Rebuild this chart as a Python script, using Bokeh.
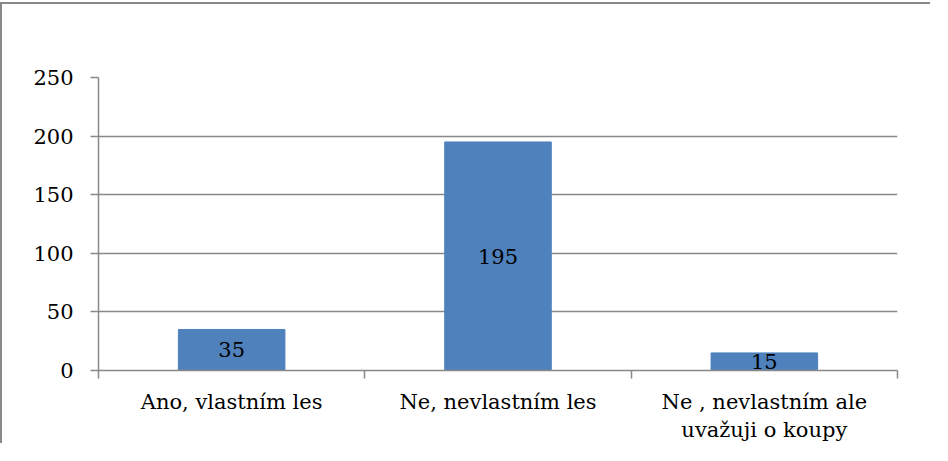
from bokeh.plotting import figure
from bokeh.models import Range1d, FixedTicker, ColumnDataSource
from bokeh.core.properties import value
from bokeh.embed import file_html
from bokeh.resources import INLINE

categories = ["Ano, vlastním les", "Ne, nevlastním les", "Ne , nevlastním ale\nuvažuji o koupy"]
counts = [35, 195, 15]
y_ticks = [0, 50, 100, 150, 200, 250]

FONT = "DejaVu Serif"
FS = "21px"
GRAY = "#898989"
BLUE = "#4F81BD"

xs = [i + 0.5 for i in range(len(categories))]
src = ColumnDataSource(dict(x=xs, top=counts, mid=[c / 2 for c in counts], lab=[str(c) for c in counts]))

p = figure(width=930, height=441, output_backend="svg", toolbar_location=None,
           x_range=Range1d(0, len(categories)), y_range=Range1d(0, 250),
           min_border_left=96, min_border_top=73, min_border_right=35, min_border_bottom=73)
p.styles = {"border-left": f"2px solid {GRAY}", "border-top": f"2px solid {GRAY}", "margin-top": "2px"}
p.outline_line_color = None
p.background_fill_color = "white"
p.border_fill_color = "white"

p.vbar(x="x", top="top", width=0.4, source=src, fill_color=BLUE, line_color=BLUE)
p.text(x="x", y="mid", text="lab", source=src, text_align="center", text_baseline="middle",
       text_font=value(FONT), text_font_size=FS, text_color="black")

ya = p.yaxis[0]
ya.ticker = FixedTicker(ticks=y_ticks, minor_ticks=[])
ya.axis_line_color = GRAY
ya.axis_line_width = 1.5
ya.major_tick_line_color = GRAY
ya.major_tick_line_width = 1.5
ya.major_tick_in = 0
ya.major_tick_out = 8
ya.minor_tick_line_color = None
ya.major_label_standoff = 17
ya.major_label_text_font = FONT
ya.major_label_text_font_size = FS
ya.major_label_text_color = "black"

xa = p.xaxis[0]
xa.ticker = FixedTicker(ticks=xs, minor_ticks=list(range(len(categories) + 1)))
xa.major_label_overrides = {x: c for x, c in zip(xs, categories)}
xa.axis_line_color = GRAY
xa.axis_line_width = 1.5
xa.major_tick_line_color = None
xa.major_tick_out = 0
xa.major_tick_in = 0
xa.minor_tick_line_color = GRAY
xa.minor_tick_line_width = 1.5
xa.minor_tick_in = 0
xa.minor_tick_out = 8
xa.major_label_standoff = 11
xa.major_label_text_font = FONT
xa.major_label_text_font_size = FS
xa.major_label_text_color = "black"

p.xgrid.grid_line_color = None
p.ygrid.ticker = FixedTicker(ticks=y_ticks)
p.ygrid.grid_line_color = GRAY
p.ygrid.grid_line_width = 1.5

open("out.html", "w").write(file_html(p, INLINE))
